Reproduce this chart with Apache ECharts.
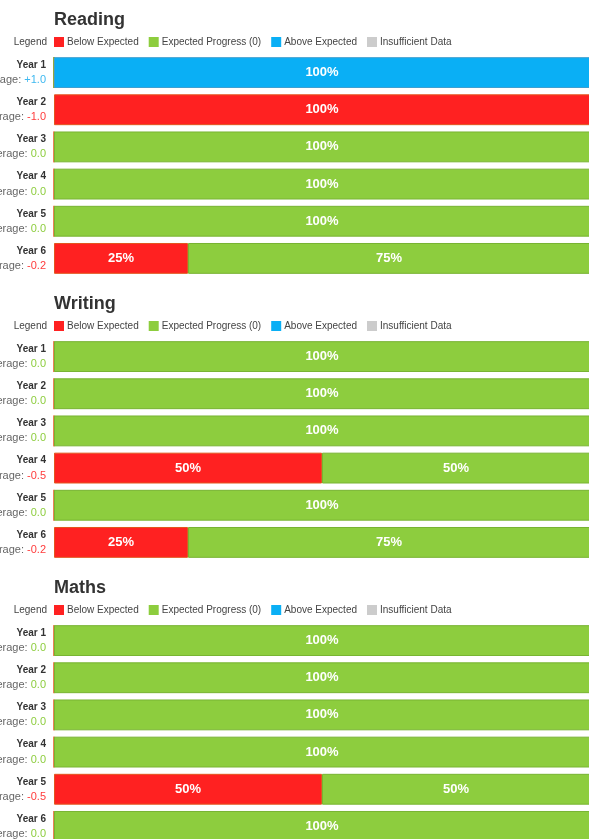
<!DOCTYPE html>
<html>
<head>
<meta charset="utf-8">
<script src="https://cdn.jsdelivr.net/npm/echarts@6/dist/echarts.min.js"></script>
<style>
  html, body { margin: 0; padding: 0; background: #fff; overflow: hidden; }
  .demo { position: absolute; left: 0; width: 589px; height: 284px; }
</style>
</head>
<body>
<div class="demo" id="reading" style="top:0"></div>
<div class="demo" id="writing" style="top:284px"></div>
<div class="demo" id="maths" style="top:568px"></div>
<script>
// categories
const years = ['Year 1', 'Year 2', 'Year 3', 'Year 4', 'Year 5', 'Year 6']
const legendNames = ['Below Expected', 'Expected Progress (0)', 'Above Expected', 'Insufficient Data']

// Reading (%)
const readingBelow = [0, 100, 0, 0, 0, 25]
const readingExpected = [0, 0, 100, 100, 100, 75]
const readingAbove = [100, 0, 0, 0, 0, 0]
const readingInsufficient = [0, 0, 0, 0, 0, 0]
const readingAvg = ['+1.0', '-1.0', '0.0', '0.0', '0.0', '-0.2']

// Writing (%)
const writingBelow = [0, 0, 0, 50, 0, 25]
const writingExpected = [100, 100, 100, 50, 100, 75]
const writingAbove = [0, 0, 0, 0, 0, 0]
const writingInsufficient = [0, 0, 0, 0, 0, 0]
const writingAvg = ['0.0', '0.0', '0.0', '-0.5', '0.0', '-0.2']

// Maths (%)
const mathsBelow = [0, 0, 0, 0, 50, 0]
const mathsExpected = [100, 100, 100, 100, 50, 100]
const mathsAbove = [0, 0, 0, 0, 0, 0]
const mathsInsufficient = [0, 0, 0, 0, 0, 0]
const mathsAvg = ['0.0', '0.0', '0.0', '0.0', '-0.5', '0.0']

const colors = ['#ff2121', '#8dcd3e', '#0aaff5', '#cccccc']
const borders = ['#e2561f', '#78b432', '#3f9fd0', '#b8b8b8']
const font = 'Arial, "Liberation Sans", sans-serif'

function avgStyle (v) {
  if (v.charAt(0) === '+') return 'pos'
  if (v.charAt(0) === '-') return 'neg'
  return 'zero'
}

function drawSection (id, title, below, expected, above, insufficient, avg) {
  let myChart = echarts.init(document.getElementById(id))
  let values = [below, expected, above, insufficient]
  myChart.setOption({
    animation: false,
    textStyle: { fontFamily: font },
    title: {
      text: title,
      left: 49,
      top: 6,
      textStyle: { fontSize: 18, fontWeight: 'bold', color: '#333', fontFamily: font }
    },
    legend: {
      data: legendNames,
      left: 54,
      top: 37,
      padding: 0,
      itemWidth: 10,
      itemHeight: 10,
      itemGap: 10,
      icon: 'rect',
      itemStyle: { borderWidth: 0 },
      textStyle: { fontSize: 10, color: '#444', padding: [0, 0, 0, -2], fontFamily: font }
    },
    graphic: [{
      type: 'text',
      right: 589 - 47,
      top: 37,
      style: { text: 'Legend', fontSize: 10, fill: '#444', fontFamily: font }
    }],
    grid: { left: 54, right: -1, top: 54, height: 223, outerBoundsMode: 'none', containLabel: false },
    xAxis: { type: 'value', min: 0, max: 100, show: false },
    yAxis: {
      type: 'category',
      data: years,
      inverse: true,
      axisLine: { show: false },
      axisTick: { show: false },
      axisLabel: {
        margin: 8,
        align: 'right',
        formatter: function (val, i) {
          return '{y|' + val + '}\n{a|Average: }{' + avgStyle(avg[i]) + '|' + avg[i] + '}'
        },
        rich: {
          y: { fontSize: 10, fontWeight: 'bold', color: '#333', lineHeight: 15, align: 'right', fontFamily: font },
          a: { fontSize: 11, color: '#666', lineHeight: 15, fontFamily: font },
          pos: { fontSize: 11, color: '#3db8f0', lineHeight: 15, fontFamily: font },
          neg: { fontSize: 11, color: '#ff3b3b', lineHeight: 15, fontFamily: font },
          zero: { fontSize: 11, color: '#8dcd3e', lineHeight: 15, fontFamily: font }
        }
      }
    },
    series: legendNames.map(function (name, k) {
      return {
        name: name,
        type: 'bar',
        stack: 'total',
        barCategoryGap: '17%',
        data: values[k],
        itemStyle: { color: colors[k], borderColor: borders[k], borderWidth: 1 },
        label: {
          show: true,
          position: 'inside',
          color: '#fff',
          fontSize: 13,
          fontWeight: 'bold',
          fontFamily: font,
          formatter: function (p) { return p.value > 0 ? p.value + '%' : '' }
        }
      }
    })
  })
}

drawSection('reading', 'Reading', readingBelow, readingExpected, readingAbove, readingInsufficient, readingAvg)
drawSection('writing', 'Writing', writingBelow, writingExpected, writingAbove, writingInsufficient, writingAvg)
drawSection('maths', 'Maths', mathsBelow, mathsExpected, mathsAbove, mathsInsufficient, mathsAvg)
</script>
</body>
</html>
